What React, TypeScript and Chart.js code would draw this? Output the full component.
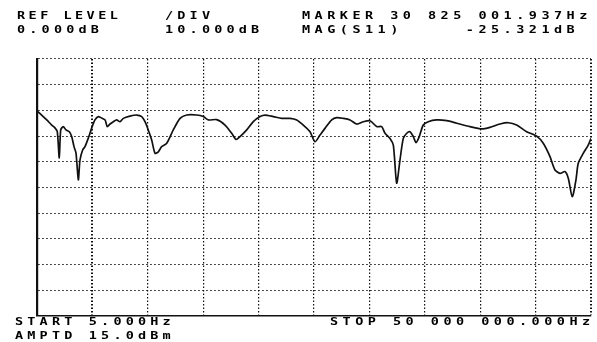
import React, { useEffect, useRef } from "react";
import { Chart, registerables } from "chart.js";

Chart.register(...registerables);

// Frequency in MHz (START 5 Hz .. STOP 50 MHz)
const freqMHz = [
  0.0, 0.42, 0.88, 1.33, 1.62, 1.83, 2.01, 2.14, 2.37, 2.62, 2.92, 3.13, 3.34, 3.52, 3.73, 3.88,
  4.12, 4.33, 4.63, 4.94, 5.23, 5.53, 5.84, 6.14, 6.34, 6.59, 6.89, 7.19, 7.49, 7.79, 8.39, 9.0,
  9.45, 9.75, 10.04, 10.35, 10.65, 10.95, 11.25, 11.71, 12.3, 12.91, 13.51, 14.41, 15.01, 15.46,
  16.22, 16.97, 17.57, 17.96, 18.32, 18.93, 19.52, 20.13, 20.58, 21.33, 22.08, 22.83, 23.44,
  24.03, 24.64, 25.09, 25.54, 25.99, 26.6, 27.05, 27.64, 28.25, 28.85, 29.45, 30.05, 30.66,
  31.11, 31.41, 31.86, 32.16, 32.46, 32.76, 33.06, 33.37, 33.66, 33.96, 34.21, 34.5, 34.86,
  35.31, 36.07, 36.98, 37.88, 39.08, 40.13, 40.88, 41.79, 42.54, 43.29, 44.19, 45.1, 45.69,
  46.3, 46.75, 47.2, 47.65, 47.95, 48.31, 48.64, 48.85, 49.3, 49.75, 50.0,
];

// |S11| in dB
const magDb = [
  -20.2, -21.8, -23.7, -25.7, -26.8, -28.3, -38.5, -27.6, -26.3, -27.6, -28.3, -30.2, -34.1,
  -36.6, -47.0, -39.3, -35.4, -34.1, -30.8, -26.8, -23.7, -22.4, -23.0, -23.7, -26.3, -25.3,
  -24.4, -23.7, -24.4, -23.1, -22.2, -21.8, -22.4, -24.4, -27.6, -31.5, -36.7, -36.1, -34.1,
  -32.8, -27.6, -23.1, -21.8, -21.8, -22.4, -23.7, -23.6, -25.7, -28.9, -31.3, -30.2, -27.6,
  -24.4, -22.4, -21.8, -22.4, -23.1, -23.1, -23.7, -25.7, -28.3, -32.2, -29.6, -27.0, -23.7,
  -22.8, -23.1, -23.7, -25.3, -24.4, -24.0, -26.3, -26.3, -28.9, -30.9, -33.5, -48.3, -39.3,
  -30.9, -28.9, -28.3, -30.2, -32.5, -30.2, -25.7, -24.4, -23.7, -24.0, -25.0, -26.3, -27.2,
  -26.6, -25.3, -24.8, -25.7, -28.3, -30.0, -32.8, -38.0, -43.2, -44.5, -43.8, -46.4, -53.6,
  -47.1, -40.6, -36.7, -33.5, -30.9,
];

const xTicks = [0, 5, 10, 15, 20, 25, 30, 35, 40, 45, 50];
const yTicks = [0, -10, -20, -30, -40, -50, -60, -70, -80, -90, -100];

const headerLeft = ["REF LEVEL", "0.000dB"];
const headerMid = ["/DIV", "10.000dB"];
const headerRight = ["MARKER 30 825 001.937Hz", "MAG(S11)     -25.321dB"];
const footerLeft = ["START 5.000Hz", "AMPTD 15.0dBm"];
const footerRight = ["STOP 50 000 000.000Hz"];

function drawSpaced(ctx: CanvasRenderingContext2D, s: string, x: number, y: number, pitch: number) {
  for (let i = 0; i < s.length; i++) {
    ctx.save();
    ctx.translate(x + i * pitch, y);
    ctx.scale(1.35, 1);
    ctx.fillText(s[i], 0, 0);
    ctx.restore();
  }
}

const textPlugin = {
  id: "plotterText",
  afterDraw(chart: any) {
    const ctx: CanvasRenderingContext2D = chart.ctx;
    ctx.save();
    ctx.fillStyle = "#000";
    ctx.font = "bold 10px 'DejaVu Sans Mono'";
    ctx.textBaseline = "alphabetic";
    drawSpaced(ctx, headerLeft[0], 17, 19, 11.6);
    drawSpaced(ctx, headerLeft[1], 17, 33, 12.3);
    drawSpaced(ctx, headerMid[0], 165, 19, 12.3);
    drawSpaced(ctx, headerMid[1], 165, 33, 12.3);
    drawSpaced(ctx, headerRight[0], 302, 19, 12.6);
    drawSpaced(ctx, headerRight[1], 302, 33, 12.6);
    drawSpaced(ctx, footerLeft[0], 15, 325, 12.3);
    drawSpaced(ctx, footerLeft[1], 15, 339, 12.3);
    drawSpaced(ctx, footerRight[0], 330, 325, 12.6);
    ctx.restore();
  },
};

export default function App() {
  const ref = useRef<HTMLCanvasElement | null>(null);
  useEffect(() => {
    document.body.style.margin = "0";
    document.body.style.background = "#fff";
    const data = freqMHz.map((f, i) => ({ x: f, y: magDb[i] }));
    const chart = new Chart(ref.current!, {
      type: "line",
      data: {
        datasets: [
          {
            data,
            borderColor: "#111",
            borderWidth: 1.7,
            pointRadius: 0,
            tension: 0.25,
            fill: false,
          },
        ],
      },
      options: {
        animation: false,
        responsive: false,
        maintainAspectRatio: false,
        layout: { padding: { left: 37, top: 59, right: 6, bottom: 26 } },
        plugins: { legend: { display: false }, tooltip: { enabled: false } },
        scales: {
          x: {
            type: "linear",
            min: 0,
            max: 50,
            afterBuildTicks: (axis: any) => {
              axis.ticks = xTicks.map((v) => ({ value: v }));
            },
            ticks: { display: false },
            grid: {
              color: "#111",
              lineWidth: (c: any) => (c.tick && (c.tick.value === 5 || c.tick.value === 50) ? 2 : 1.2),
              drawTicks: false,
            },
            border: { display: true, color: "#111", width: 1.5, dash: [1.5, 2] },
          },
          y: {
            type: "linear",
            min: -100,
            max: 0,
            afterBuildTicks: (axis: any) => {
              axis.ticks = yTicks.map((v) => ({ value: v }));
            },
            ticks: { display: false },
            grid: { color: "#111", lineWidth: 1.1, drawTicks: false },
            border: { display: true, color: "#111", width: 2.2, dash: [1.5, 2.5] },
          },
        },
      } as any,
      plugins: [textPlugin],
    });
    return () => chart.destroy();
  }, []);
  return <canvas ref={ref} width={597} height={342} style={{ display: "block" }} />;
}
